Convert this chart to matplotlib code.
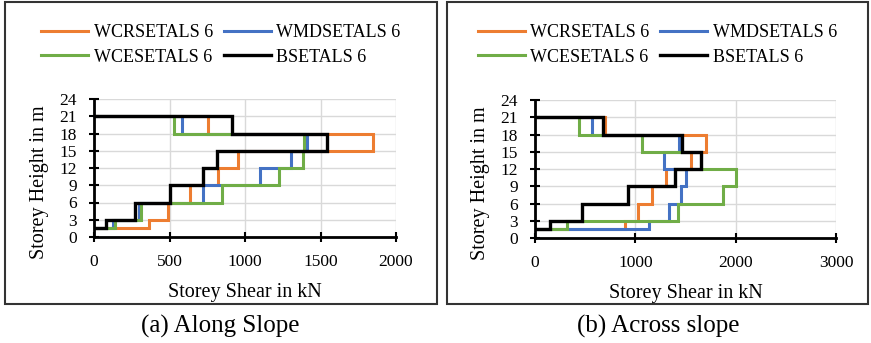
import numpy as np
import matplotlib.pyplot as plt
from matplotlib.patches import Rectangle

plt.rcParams['font.family'] = ['Liberation Serif', 'DejaVu Serif']

# storey levels (m) and storey shear (kN) per storey
levels = [1.5, 3, 6, 9, 12, 15, 18, 21]
series = ['WCRSETALS 6', 'WMDSETALS 6', 'WCESETALS 6', 'BSETALS 6']
colors = ['#ED7D31', '#4472C4', '#70AD47', '#000000']

# (a) along slope
along_wcr = [363, 487, 635, 823, 956, 1847, 757]
along_wmd = [125, 299, 719, 1100, 1303, 1409, 580]
along_wce = [137, 314, 845, 1228, 1383, 1394, 529]
along_bs = [77, 270, 502, 719, 812, 1542, 912]

# (b) across slope
across_wcr = [900, 1027, 1170, 1303, 1550, 1700, 700]
across_wmd = [1140, 1337, 1457, 1507, 1290, 1440, 567]
across_wce = [317, 1430, 1873, 2000, 1650, 1067, 443]
across_bs = [150, 473, 927, 1400, 1650, 1467, 673]


def profile(vals):
    # stepped outline: horizontal at each level, vertical through each storey
    xs, ys = [0], [levels[0]]
    for i, v in enumerate(vals):
        xs += [v, v]
        ys += [levels[i], levels[i + 1]]
    xs.append(0)
    ys.append(levels[-1])
    return xs, ys


W, H = 871, 343
fig = plt.figure(figsize=(W / 100, H / 100), dpi=100)

panels = [
    dict(data=[along_wcr, along_wmd, along_wce, along_bs], xmax=2000, step=500,
         ax=(94, 99, 396, 237), box=(5, 2, 437, 304), cap='(a) Along Slope', capx=220),
    dict(data=[across_wcr, across_wmd, across_wce, across_bs], xmax=3000, step=1000,
         ax=(535, 100, 836, 238), box=(447, 2, 868, 304), cap='(b) Across slope', capx=658),
]

for p in panels:
    l, t, r, b = p['ax']
    ax = fig.add_axes([l / W, 1 - b / H, (r - l) / W, (b - t) / H])
    for vals, c, name in zip(p['data'], colors, series):
        xs, ys = profile(vals)
        ax.plot(xs, ys, color=c, lw=2.2 if c != '#000000' else 2.4, label=name,
                solid_joinstyle='miter')
    ax.set_xlim(0, p['xmax'])
    ax.set_ylim(0, 24)
    ax.set_xticks(np.arange(0, p['xmax'] + 1, p['step']))
    ax.set_yticks(np.arange(0, 25, 3))
    ax.grid(True, color='#D9D9D9', lw=1)
    ax.set_axisbelow(True)
    for s in ['top', 'right']:
        ax.spines[s].set_visible(False)
    for s in ['left', 'bottom']:
        ax.spines[s].set_linewidth(2)
    ax.tick_params(direction='inout', length=7, width=1.5, labelsize=12.5)
    ax.tick_params(axis='x', pad=9)
    ax.tick_params(axis='y', pad=9)
    ax.set_xlabel('Storey Shear in kN', fontsize=14.5, labelpad=9)
    ax.set_ylabel('Storey Height in m', fontsize=14.5)
    ax.yaxis.set_label_coords(-0.15, 0.40)

    bl, bt, br, bb = p['box']
    fig.patches.append(Rectangle((bl / W, 1 - bb / H), (br - bl) / W, (bb - bt) / H,
                                 transform=fig.transFigure, fill=False,
                                 edgecolor='#333333', lw=1.5))
    h, lab = ax.get_legend_handles_labels()
    order = [0, 2, 1, 3]
    fig.legend([h[i] for i in order], [lab[i] for i in order], loc='center',
               bbox_to_anchor=((bl + br) / 2 / W, 1 - 45 / H),
               ncol=2, frameon=False, fontsize=13, handlelength=2.6,
               columnspacing=0.6, handletextpad=0.3, labelspacing=0.4)
    fig.text(p['capx'] / W, 1 - 326 / H, p['cap'], ha='center', va='center', fontsize=18)

fig.savefig('out.png', dpi=100)
